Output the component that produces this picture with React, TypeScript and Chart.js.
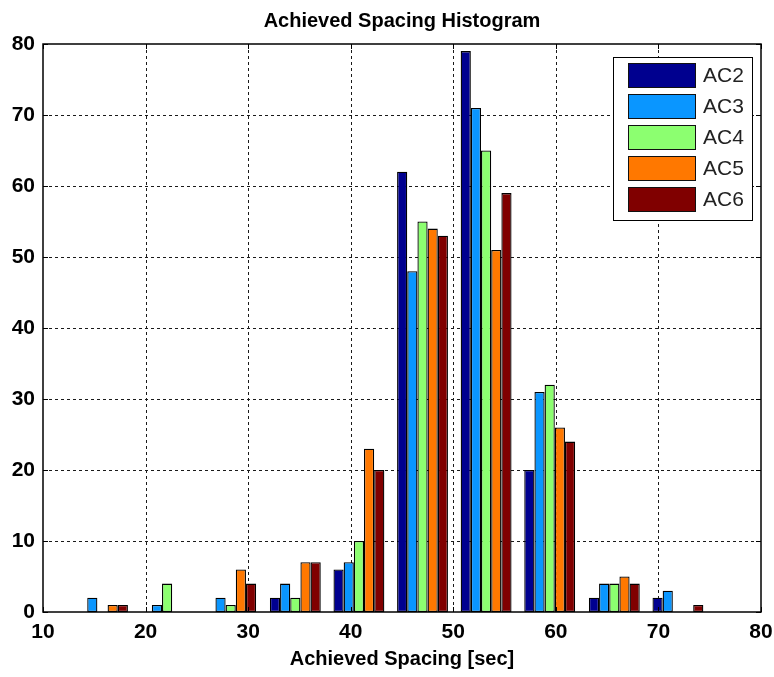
import React, { useEffect, useRef } from "react";
import { Chart, registerables } from "chart.js";

Chart.register(...registerables);

// ---- data ----
const binCenters = [15.8, 22.1, 28.3, 34.6, 40.8, 47.0, 53.2, 59.4, 65.7, 71.9];
const seriesNames = ["AC2", "AC3", "AC4", "AC5", "AC6"];
const ac2 = [0, 0, 0, 2, 6, 62, 79, 20, 2, 2];
const ac3 = [2, 1, 2, 4, 7, 48, 71, 31, 4, 3];
const ac4 = [0, 4, 1, 2, 10, 55, 65, 32, 4, 0];
const ac5 = [1, 0, 6, 7, 23, 54, 51, 26, 5, 0];
const ac6 = [1, 0, 4, 7, 20, 53, 59, 24, 4, 1];
const xTickValues = [10, 20, 30, 40, 50, 60, 70, 80];
const yTickValues = [0, 10, 20, 30, 40, 50, 60, 70, 80];
const chartTitle = "Achieved Spacing Histogram";
const xAxisTitle = "Achieved Spacing [sec]";

const seriesValues = [ac2, ac3, ac4, ac5, ac6];
const seriesColors = ["#00008F", "#0A96FF", "#8CFF70", "#FF7800", "#800000"];

const FONT = "'Liberation Sans', Arial, Helvetica, sans-serif";

const decorPlugin = {
  id: "matlabDecor",
  beforeDatasetsDraw(chart: any) {
    const { ctx, chartArea: a, scales } = chart;
    const xs = scales.x;
    const ys = scales.y;
    ctx.save();
    ctx.strokeStyle = "#1a1a1a";
    ctx.lineWidth = 1;
    ctx.setLineDash([3, 3]);
    xTickValues.forEach((v) => {
      const px = Math.round(xs.getPixelForValue(v)) + 0.5;
      if (px <= a.left + 1 || px >= a.right - 1) return;
      ctx.beginPath();
      ctx.moveTo(px, a.top);
      ctx.lineTo(px, a.bottom);
      ctx.stroke();
    });
    yTickValues.forEach((v) => {
      const py = Math.round(ys.getPixelForValue(v)) + 0.5;
      if (py <= a.top + 1 || py >= a.bottom - 1) return;
      ctx.beginPath();
      ctx.moveTo(a.left, py);
      ctx.lineTo(a.right, py);
      ctx.stroke();
    });
    ctx.restore();
  },
  afterDatasetsDraw(chart: any) {
    const { ctx, chartArea: a, scales } = chart;
    const xs = scales.x;
    const ys = scales.y;
    ctx.save();
    ctx.setLineDash([]);
    ctx.strokeStyle = "#000";
    ctx.lineWidth = 1.5;
    ctx.strokeRect(a.left, a.top, a.right - a.left, a.bottom - a.top);
    ctx.lineWidth = 1;
    const tl = 5;
    xTickValues.forEach((v) => {
      const px = Math.round(xs.getPixelForValue(v)) + 0.5;
      ctx.beginPath();
      ctx.moveTo(px, a.bottom);
      ctx.lineTo(px, a.bottom - tl);
      ctx.moveTo(px, a.top);
      ctx.lineTo(px, a.top + tl);
      ctx.stroke();
    });
    yTickValues.forEach((v) => {
      const py = Math.round(ys.getPixelForValue(v)) + 0.5;
      ctx.beginPath();
      ctx.moveTo(a.left, py);
      ctx.lineTo(a.left + tl, py);
      ctx.moveTo(a.right, py);
      ctx.lineTo(a.right - tl, py);
      ctx.stroke();
    });

    // titles
    const cx = (a.left + a.right) / 2;
    ctx.fillStyle = "#000";
    ctx.textAlign = "center";
    ctx.textBaseline = "alphabetic";
    ctx.font = `bold 20px ${FONT}`;
    ctx.fillText(chartTitle, cx, 27);
    ctx.fillText(xAxisTitle, cx, 665);

    // legend
    const boxW = 139;
    const boxH = 163;
    const bx = a.right - 148;
    const by = a.top + 13;
    ctx.fillStyle = "#fff";
    ctx.fillRect(bx, by, boxW, boxH);
    ctx.strokeStyle = "#000";
    ctx.lineWidth = 1;
    ctx.strokeRect(bx + 0.5, by + 0.5, boxW, boxH);
    ctx.font = `21px ${FONT}`;
    ctx.textAlign = "left";
    ctx.textBaseline = "middle";
    chart.data.datasets.forEach((ds: any, i: number) => {
      const cy = by + 18 + i * 31;
      ctx.fillStyle = ds.backgroundColor;
      ctx.fillRect(bx + 15, cy - 12, 67, 24);
      ctx.strokeStyle = "#111";
      ctx.strokeRect(bx + 15.5, cy - 11.5, 67, 24);
      ctx.fillStyle = "#222";
      ctx.fillText(ds.label, bx + 90, cy + 1);
    });
    ctx.restore();
  },
};

export default function App() {
  const canvasRef = useRef<HTMLCanvasElement | null>(null);

  useEffect(() => {
    const canvas = canvasRef.current;
    if (!canvas) return;
    const datasets = seriesNames.map((name, i) => ({
      label: name,
      data: binCenters.map((x, j) => ({ x, y: seriesValues[i][j] })),
      backgroundColor: seriesColors[i],
      borderColor: "#000",
      borderWidth: 1.3,
      borderSkipped: false as const,
      categoryPercentage: 0.8,
      barPercentage: 1.0,
    }));
    const chart = new Chart(canvas, {
      type: "bar",
      data: { datasets },
      options: {
        responsive: false,
        animation: false,
        devicePixelRatio: 1,
        layout: { padding: { top: 44, right: 13, left: 0, bottom: 0 } },
        plugins: {
          legend: { display: false },
          title: { display: false },
          tooltip: { enabled: false },
        },
        scales: {
          x: {
            type: "linear",
            min: 10,
            max: 80,
            offset: false,
            grid: { display: false, drawTicks: false },
            border: { display: false },
            afterFit: (s: any) => {
              s.height = 65;
              s.paddingLeft = 0;
              s.paddingRight = 0;
            },
            afterBuildTicks: (s: any) => {
              s.ticks = xTickValues.map((v) => ({ value: v }));
            },
            ticks: {
              padding: 8,
              color: "#000",
              font: { family: FONT, size: 21, weight: "bold" },
              maxRotation: 0,
            },
          },
          y: {
            min: 0,
            max: 80,
            grid: { display: false, drawTicks: false },
            border: { display: false },
            afterFit: (s: any) => {
              s.width = 43;
              s.paddingTop = 0;
              s.paddingBottom = 0;
            },
            afterBuildTicks: (s: any) => {
              s.ticks = yTickValues.map((v) => ({ value: v }));
            },
            ticks: {
              padding: 8,
              color: "#000",
              font: { family: FONT, size: 21, weight: "bold" },
            },
          },
        },
      },
      plugins: [decorPlugin],
    } as any);
    return () => chart.destroy();
  }, []);

  return (
    <div style={{ position: "absolute", left: 0, top: 0, width: 774, height: 677, background: "#fff" }}>
      <canvas ref={canvasRef} width={774} height={677} style={{ display: "block" }} />
    </div>
  );
}
